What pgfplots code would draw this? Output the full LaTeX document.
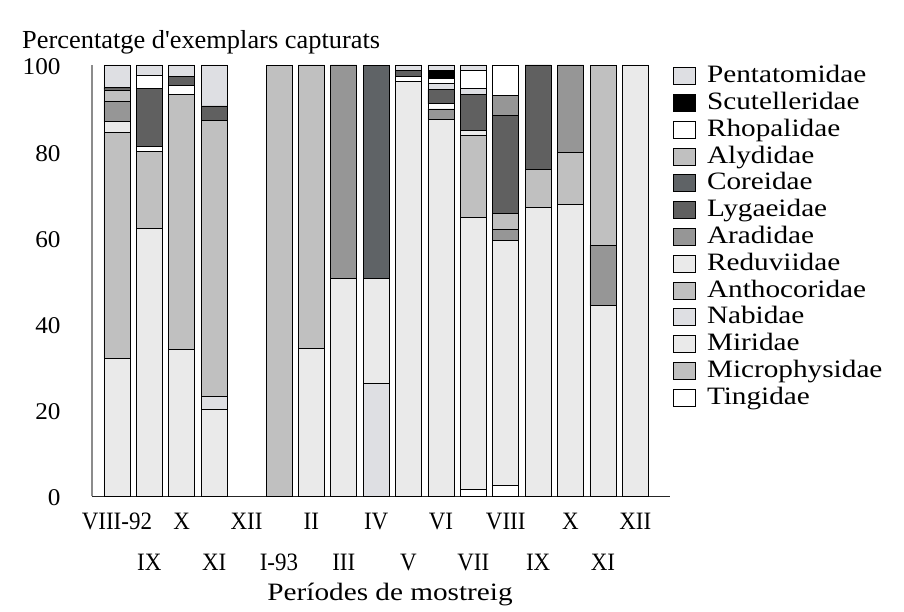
\documentclass[border=0pt]{standalone}
\usepackage{pgfplots}
\usepackage{pgfplotstable}
\usepackage{graphicx}
\usepackage{fontspec}
\setmainfont{Liberation Serif}
\newfontfamily\tf{Liberation Serif}
\pgfplotsset{compat=1.18}
\newcommand{\sx}[1]{\scalebox{1.17}[1]{#1}}
\newcommand{\sy}[1]{\scalebox{1.05}[1]{#1}}
\newcommand{\st}[1]{\scalebox{1.015}[1]{#1}}
\newcommand{\sxt}[1]{\scalebox{0.92}[1]{#1}}
\definecolor{cW}{HTML}{FFFFFF}
\definecolor{cC}{HTML}{C0C0C0}
\definecolor{cE}{HTML}{EAEAEA}
\definecolor{cD}{HTML}{DEDFE3}
\definecolor{cG}{HTML}{969696}
\definecolor{cK}{HTML}{606060}
\definecolor{cS}{HTML}{5F6366}
\definecolor{cB}{HTML}{000000}

\pgfplotstableread{
x  Ting Micr Miri Nabi Anth Redu Arad xC  xW  Lyga Core xG  Alyd xD  Rhop Scut Pent
0  0    0    32.0 0    52.3 2.5  4.8  2.6 0   0.6  0    0   0    0   0    0    5.2
1  0    0    62.1 0    17.8 0    0    0   1.1 13.5 0    0   0    0   3.0  0    2.5
2  0    0    34.0 0    59.2 0    0    0   2.0 2.2  0    0   0    0   0    0    2.6
3  0    0    20.0 3.2  63.9 0    0    0   0   3.4  0    0   0    0   0    0    9.5
4  0    0    0    0    0    0    0    0   0   0    0    0   0    0   0    0    0
5  0    100  0    0    0    0    0    0   0   0    0    0   0    0   0    0    0
6  0    0    34.3 0    65.7 0    0    0   0   0    0    0   0    0   0    0    0
7  0    0    50.4 0    0    0    49.6 0   0   0    0    0   0    0   0    0    0
8  0    0    0    26.1 0    24.3 0    0   0   0    49.6 0   0    0   0    0    0
9  0    0    96.2 0    0    0    0    0   1.1 1.5  0    0   0    0   0    0    1.2
10 0    0    87.4 0    0    0    2.4  0   1.2 3.3  0    0   0    1.5 1.1  1.8  1.3
11 1.6  0    63.1 0    19.0 1.1  0    0   0   8.4  0    0   0    1.3 4.2  0    1.3
12 2.5  0    56.8 0    0    0    2.6  3.7 0   22.6 0    4.8 0    0   7.0  0    0
13 0    0    67.0 0    8.8  0    0    0   0   24.2 0    0   0    0   0    0    0
14 0    0    67.7 0    12.0 0    20.3 0   0   0    0    0   0    0   0    0    0
15 0    0    44.2 0    0    0    14.0 0   0   0    0    0   41.8 0   0    0    0
16 0    0    100  0    0    0    0    0   0   0    0    0   0    0   0    0    0
}\data

\pgfplotsset{
  seg/.style={fill=#1, draw=black, line width=0.8pt,
    legend image code/.code={\draw[##1, draw=black, line width=0.8pt] (0pt,-7pt) rectangle (22pt,10pt);}},
}

\begin{document}
\begin{tikzpicture}
\begin{axis}[name=ax, scale only axis, width=578pt, height=431pt,
  xmin=-0.77, xmax=17.07, ymin=0, ymax=100,
  ybar stacked, bar width=26pt,
  axis x line*=bottom, axis y line*=left, axis line style={-},
  x axis line style={black!85, line width=1pt},
  y axis line style={black!45, line width=1.3pt},
  major tick length=0pt,
  ytick={0,20,...,100},
  yticklabels={\sy{0},\sy{20},\sy{40},\sy{60},\sy{80},\sy{100}},
  yticklabel style={font=\tf\fontsize{24}{26}\selectfont, anchor=east, xshift=-28pt, yshift=-2pt},
  xtick={0,2,...,16},
  xticklabels={\sxt{VIII-92},\sxt{X},\sxt{XII},\sxt{II},\sxt{IV},\sxt{VI},\sxt{VIII},\sxt{X},\sxt{XII}},
  xticklabel style={font=\tf\fontsize{25}{27}\selectfont, anchor=base, text height=17pt, text depth=0pt, yshift=-33pt},
  extra x ticks={1,3,...,15},
  extra x tick labels={\sxt{IX},\sxt{XI},\sxt{I-93},\sxt{III},\sxt{V},\sxt{VII},\sxt{IX},\sxt{XI}},
  extra x tick style={xticklabel style={yshift=-41pt}, major tick length=0pt},
  reverse legend,
  legend cell align=left,
  legend style={at={(1,1)}, anchor=north west, xshift=3pt, yshift=-2pt,
    draw=none, fill=none, inner sep=0pt,
    font=\tf\fontsize{25}{27}\selectfont,
    row sep=6.4pt, column sep=11pt,
    nodes={inner sep=0pt, text height=15pt, text depth=5pt}},
  clip=false,
]
\addplot[seg=cW] table[x=x,y=Ting]{\data}; \addlegendentry{\sx{Tingidae}}
\addplot[seg=cC] table[x=x,y=Micr]{\data}; \addlegendentry{\sx{Microphysidae}}
\addplot[seg=cE] table[x=x,y=Miri]{\data}; \addlegendentry{\sx{Miridae}}
\addplot[seg=cD] table[x=x,y=Nabi]{\data}; \addlegendentry{\sx{Nabidae}}
\addplot[seg=cC] table[x=x,y=Anth]{\data}; \addlegendentry{\sx{Anthocoridae}}
\addplot[seg=cE] table[x=x,y=Redu]{\data}; \addlegendentry{\sx{Reduviidae}}
\addplot[seg=cG] table[x=x,y=Arad]{\data}; \addlegendentry{\sx{Aradidae}}
\addplot[seg=cC, forget plot] table[x=x,y=xC]{\data};
\addplot[seg=cW, forget plot] table[x=x,y=xW]{\data};
\addplot[seg=cK] table[x=x,y=Lyga]{\data}; \addlegendentry{\sx{Lygaeidae}}
\addplot[seg=cS] table[x=x,y=Core]{\data}; \addlegendentry{\sx{Coreidae}}
\addplot[seg=cG, forget plot] table[x=x,y=xG]{\data};
\addplot[seg=cC] table[x=x,y=Alyd]{\data}; \addlegendentry{\sx{Alydidae}}
\addplot[seg=cD, forget plot] table[x=x,y=xD]{\data};
\addplot[seg=cW] table[x=x,y=Rhop]{\data}; \addlegendentry{\sx{Rhopalidae}}
\addplot[seg=cB] table[x=x,y=Scut]{\data}; \addlegendentry{\sx{Scutelleridae}}
\addplot[seg=cD] table[x=x,y=Pent]{\data}; \addlegendentry{\sx{Pentatomidae}}
\node[anchor=base west, font=\tf\fontsize{26}{28}\selectfont, inner sep=0pt]
  at (rel axis cs:0,1) [xshift=-70pt, yshift=16pt] {\st{Percentatge d'exemplars capturats}};
\node[anchor=base, font=\tf\fontsize{25}{27}\selectfont, inner sep=0pt]
  at (axis cs:8.43,0) [yshift=-104pt] {\sx{Períodes de mostreig}};
\end{axis}
\pgfresetboundingbox
\path ([shift={(-92pt,-115pt)}]ax.south west) rectangle ([shift={(812pt,496pt)}]ax.south west);
\end{tikzpicture}
\end{document}
